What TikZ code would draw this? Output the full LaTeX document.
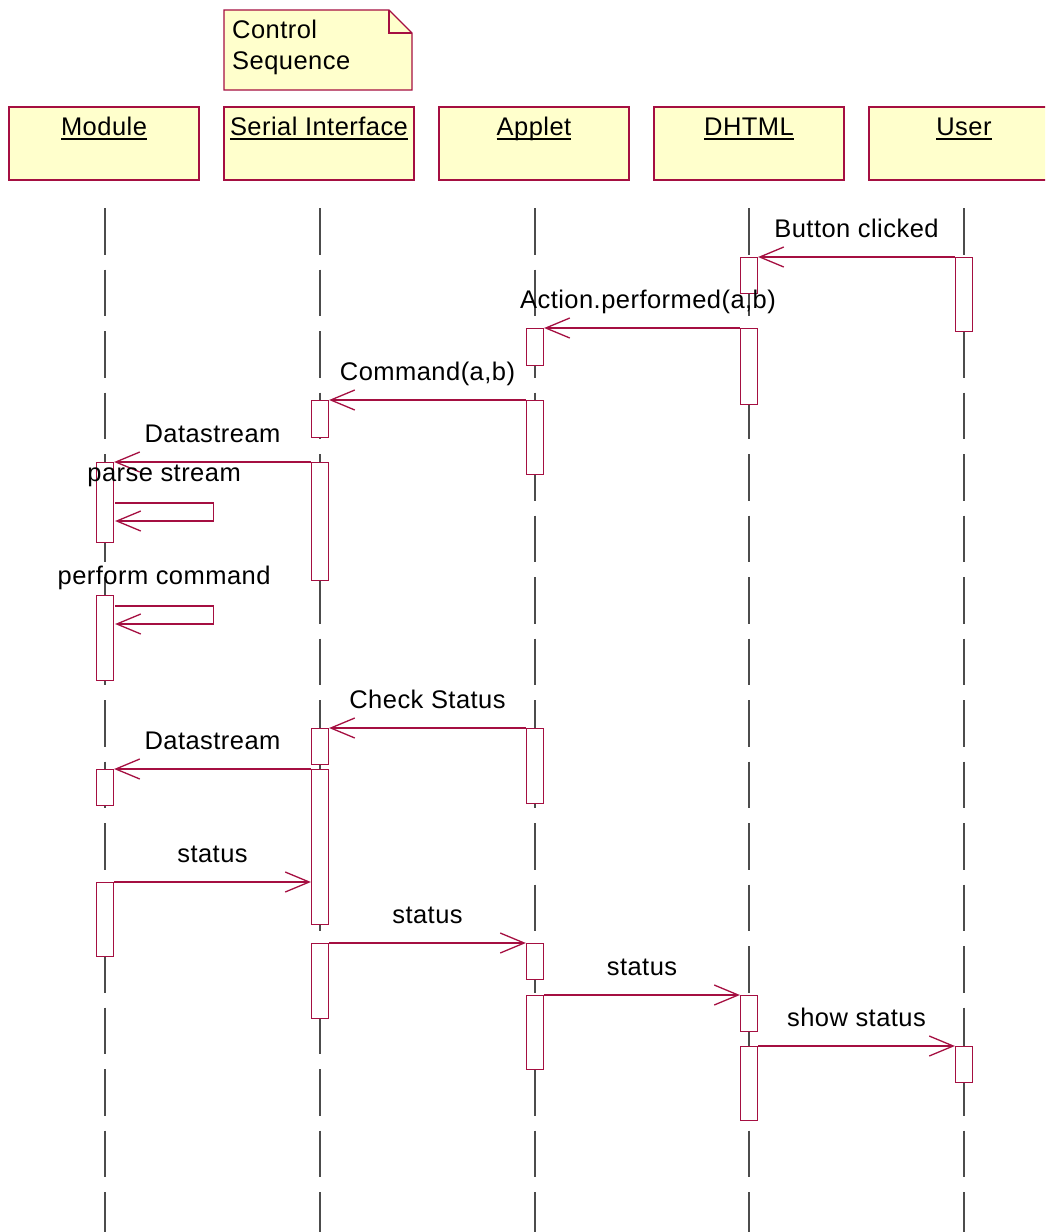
\documentclass[tikz,border=0pt]{standalone}
\usepackage{fontspec}
\setmainfont[LetterSpace=1.8]{Liberation Sans}
\usetikzlibrary{arrows.meta,calc}
\definecolor{umlred}{RGB}{165,15,65}
\definecolor{umlfill}{RGB}{255,255,204}
% underlined object name; the rule is drawn at a fixed depth so descenders cross it
\newcommand\ulword[1]{\setbox0\hbox{#1}\rlap{\rule[-4.7pt]{\wd0}{2pt}}\box0}

\begin{document}
\begin{tikzpicture}[x=1pt,y=-1pt,
  txt/.style={font=\fontsize{25.5}{31}\selectfont, inner sep=0pt},
  objbox/.style={draw=umlred, fill=umlfill, line width=1.3pt,
    minimum width=190pt, minimum height=73pt, inner sep=0pt},
  act/.style={draw=umlred, fill=white, line width=1.2pt,
    minimum width=17pt, inner sep=0pt, anchor=north},
  life/.style={draw=black!70, line width=1.1pt, dash pattern=on 46.5pt off 15pt},
  msg/.style={draw=umlred, line width=1.2pt,
    -{Straight Barb[length=24pt,width=20pt,line width=1.3pt]}},
  lbl/.style={txt, anchor=base, yshift=20pt},
  selflbl/.style={txt, anchor=base, yshift=22pt},
]
\useasboundingbox (0,0) rectangle (1045,1232);
\clip (0,0) rectangle (1045,1232);

% object header boxes
\node[objbox] (hm) at (104,143.5) {};
\node[objbox] (hs) at (319,143.5) {};
\node[objbox] (ha) at (534,143.5) {};
\node[objbox] (hd) at (749,143.5) {};
\node[objbox] (hu) at (964,143.5) {};
\node[txt, anchor=base] (tm) at ([yshift=-29pt]hm.north) {\ulword{Module}};
\node[txt, anchor=base] (ts) at ([yshift=-29pt]hs.north) {\ulword{Serial Interface}};
\node[txt, anchor=base] (ta) at ([yshift=-29pt]ha.north) {\ulword{Applet}};
\node[txt, anchor=base] (td) at ([yshift=-29pt]hd.north) {\ulword{DHTML}};
\node[txt, anchor=base] (tu) at ([yshift=-29pt]hu.north) {\ulword{User}};

% note
\draw[draw=umlred, fill=umlfill, line width=1.3pt]
  (224,10) -- (389,10) -- (412,33) -- (412,90) -- (224,90) -- cycle;
\draw[draw=umlred, line width=1.3pt] (389,10) -- (389,33) -- (412,33);
\node[txt, anchor=north west, align=left] (note) at (232,18)
  {\rule{0pt}{20pt}Control\\Sequence};

% lifelines
\foreach \h/\x in {hm/105,hs/320,ha/535,hd/749,hu/964}
  \draw[life] (\x,208) -- (\x,1300);

% activation bars
\node[act, minimum height=74pt]  (u1) at (964,257) {};
\node[act, minimum height=36pt]  (d1) at (749,257) {};
\node[act, minimum height=76pt]  (d2) at (749,328) {};
\node[act, minimum height=37pt]  (a1) at (535,328) {};
\node[act, minimum height=74pt]  (a2) at (535,400) {};
\node[act, minimum height=37pt]  (s1) at (320,400) {};
\node[act, minimum height=118pt] (s2) at (320,462) {};
\node[act, minimum height=80pt]  (m1) at (105,462) {};
\node[act, minimum height=85pt]  (m2) at (105,595) {};
\node[act, minimum height=36pt]  (s3) at (320,728) {};
\node[act, minimum height=155pt] (s4) at (320,769) {};
\node[act, minimum height=75pt]  (a3) at (535,728) {};
\node[act, minimum height=36pt]  (m3) at (105,769) {};
\node[act, minimum height=74pt]  (m4) at (105,882) {};
\node[act, minimum height=75pt]  (s5) at (320,943) {};
\node[act, minimum height=36pt]  (a4) at (535,943) {};
\node[act, minimum height=74pt]  (a5) at (535,995) {};
\node[act, minimum height=36pt]  (d3) at (749,995) {};
\node[act, minimum height=74pt]  (d4) at (749,1046) {};
\node[act, minimum height=36pt]  (u2) at (964,1046) {};

% messages
\draw[msg] (u1.north west) -- (d1.north east) node[midway, lbl] {Button clicked};
\draw[msg] (d2.north west) -- (a1.north east) node[midway, lbl, xshift=6pt] {Action.performed(a,b)};
\draw[msg] (a2.north west) -- (s1.north east) node[midway, lbl] {Command(a,b)};
\draw[msg] (s2.north west) -- (m1.north east) node[midway, lbl] {Datastream};
\draw[msg] ($(m1.north east)+(1,41)$) -- ++(98,0) node[midway, selflbl] {parse stream}
  -- ++(0,18) -- ++(-98,0);
\draw[msg] ($(m2.north east)+(1,11)$) -- ++(98,0) node[midway, selflbl] {perform command}
  -- ++(0,18) -- ++(-98,0);
\draw[msg] (a3.north west) -- (s3.north east) node[midway, lbl] {Check Status};
\draw[msg] (s4.north west) -- (m3.north east) node[midway, lbl] {Datastream};
\draw[msg] (m4.north east) -- (m4.north east -| s4.west) node[midway, lbl] {status};
\draw[msg] (s5.north east) -- (a4.north west) node[midway, lbl] {status};
\draw[msg] (a5.north east) -- (d3.north west) node[midway, lbl] {status};
\draw[msg] (d4.north east) -- (u2.north west) node[midway, lbl] {show status};
\end{tikzpicture}
\end{document}
